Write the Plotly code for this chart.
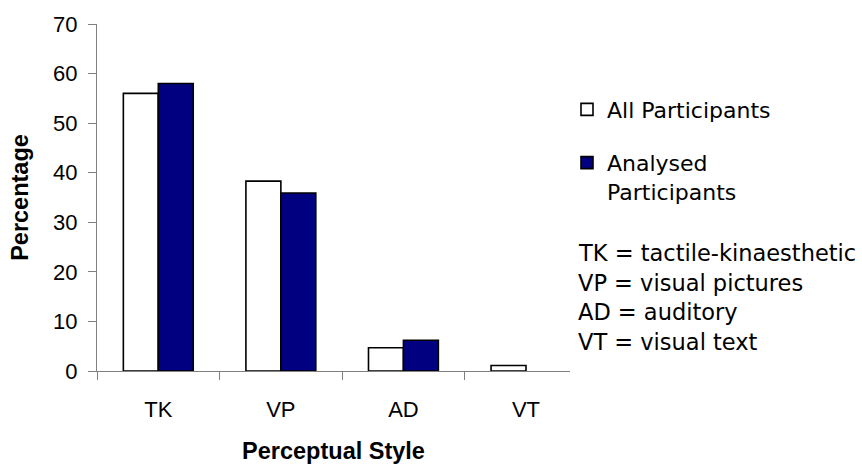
import plotly.graph_objects as go

# Perceptual style distribution (percent of participants)
styles = ["TK", "VP", "AD", "VT"]
all_participants = [56.0, 38.3, 4.7, 1.1]
analysed_participants = [58.0, 35.9, 6.2, 0.0]
style_key = [
    "TK = tactile-kinaesthetic",
    "VP = visual pictures",
    "AD = auditory",
    "VT = visual text",
]

TICK_FONT = "Liberation Sans, Arial, sans-serif"
TEXT_FONT = "DejaVu Sans, Liberation Sans, sans-serif"
AXIS_GREY = "#808080"

# plot-area box in pixels (figure is 862 x 472)
PL, PR, PT, PB = 97, 570, 22, 380


def px(xp):
    return (xp - PL) / (PR - PL)


def py(yp):
    return (PB - yp) / (PB - PT)


def outline(values):
    # zero-height bars get no outline
    return [1.6 if v > 0 else 0 for v in values]


fig = go.Figure()
fig.add_trace(go.Bar(
    x=styles, y=all_participants, name="All Participants",
    marker=dict(color="white",
                line=dict(color="black", width=outline(all_participants))),
    legend="legend",
))
fig.add_trace(go.Bar(
    x=styles, y=analysed_participants, name="Analysed<br>Participants",
    marker=dict(color="#000080",
                line=dict(color="black", width=outline(analysed_participants))),
    legend="legend2",
))

# Key for the abbreviations, below the legend
key_y = [258.5, 289, 319.5, 350]
for text, yp in zip(style_key, key_y):
    fig.add_annotation(
        text=text, xref="paper", yref="paper",
        x=px(576), y=py(yp),
        xanchor="left", yanchor="middle", showarrow=False,
        font=dict(family=TEXT_FONT, size=22.5, color="black"),
    )

legend_style = dict(
    xanchor="left", yanchor="top", valign="top",
    font=dict(family=TEXT_FONT, size=22, color="black"),
    bgcolor="rgba(0,0,0,0)", borderwidth=0,
)

fig.update_layout(
    width=862, height=472,
    margin=dict(l=PL, r=862 - PR, t=PT, b=472 - PB),
    paper_bgcolor="white", plot_bgcolor="white",
    barmode="group", bargap=0.43, bargroupgap=0.0,
    font=dict(family=TICK_FONT, size=22, color="black"),
    showlegend=True,
    legend=dict(x=px(567), y=py(88.6), **legend_style),
    legend2=dict(x=px(567), y=py(143.6), **legend_style),
    xaxis=dict(
        range=[-0.5, 3.359], showline=True, linecolor=AXIS_GREY, linewidth=1.2,
        ticks="outside", tickson="boundaries", ticklen=8, tickcolor=AXIS_GREY,
        tickwidth=1.2, ticklabelstandoff=18,
        tickfont=dict(family=TICK_FONT, size=22),
        title=dict(text="<b>Perceptual Style</b>", standoff=22,
                   font=dict(family=TICK_FONT, size=23.5)),
        showgrid=False, zeroline=False, fixedrange=True,
    ),
    yaxis=dict(
        range=[0, 70], dtick=10, showline=True, linecolor=AXIS_GREY,
        linewidth=1.2, ticks="outside", ticklen=8, tickcolor=AXIS_GREY,
        tickwidth=1.2, ticklabelstandoff=6,
        tickfont=dict(family=TICK_FONT, size=22),
        title=dict(text="<b>Percentage</b>", standoff=17,
                   font=dict(family=TICK_FONT, size=23.5)),
        showgrid=False, zeroline=False, fixedrange=True,
    ),
)

fig.write_html("out.html")
